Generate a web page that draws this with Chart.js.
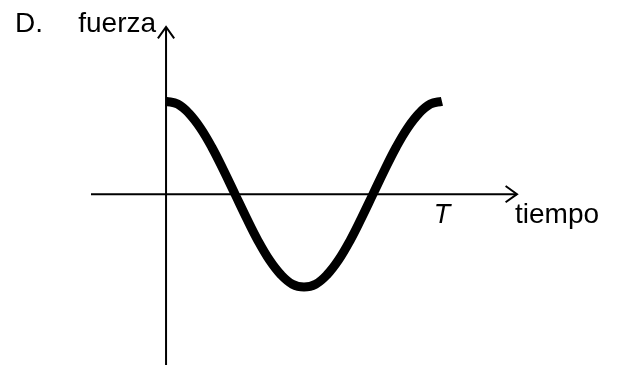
<!DOCTYPE html>
<html>
<head>
<meta charset="utf-8">
<script src="https://cdn.jsdelivr.net/npm/chart.js@4"></script>
<style>
    html, body { margin: 0; padding: 0; background: #fff; }
    #chart { display: block; }
</style>
</head>
<body>
<canvas id="chart" width="619" height="367"></canvas>
<script>
// values: one full period, time in units of T
const timeValues = [0, 0.042, 0.083, 0.125, 0.167, 0.208, 0.25, 0.292, 0.333, 0.375, 0.417, 0.458, 0.5,
                    0.542, 0.583, 0.625, 0.667, 0.708, 0.75, 0.792, 0.833, 0.875, 0.917, 0.958, 1];
const forceValues = [1, 0.97, 0.87, 0.71, 0.5, 0.26, 0, -0.26, -0.5, -0.71, -0.87, -0.97, -1,
                     -0.97, -0.87, -0.71, -0.5, -0.26, 0, 0.26, 0.5, 0.71, 0.87, 0.97, 1];

// axis extents (data units)
const xRange = [-0.272, 1.272];
const yRange = [-1.84, 1.80];

const periodTick = 1;
const labels = { prefix: 'D.', yTitle: 'fuerza', xTitle: 'tiempo', period: 'T' };

const FONT = '"Liberation Sans", Arial, sans-serif';

function drawArrow(ctx, x1, y1, x2, y2) {
    const ang = Math.atan2(y2 - y1, x2 - x1);
    const len = 14, spread = 0.62;
    ctx.beginPath();
    ctx.moveTo(x1, y1);
    ctx.lineTo(x2, y2);
    ctx.stroke();
    ctx.beginPath();
    ctx.moveTo(x2 - len * Math.cos(ang - spread), y2 - len * Math.sin(ang - spread));
    ctx.lineTo(x2, y2);
    ctx.lineTo(x2 - len * Math.cos(ang + spread), y2 - len * Math.sin(ang + spread));
    ctx.stroke();
}

const axesPlugin = {
    id: 'sketchAxes',
    beforeDatasetsDraw(chart) {
        const ctx = chart.ctx;
        const xs = chart.scales.x, ys = chart.scales.y;
        const x0 = xs.getPixelForValue(0);
        const y0 = ys.getPixelForValue(0);
        ctx.save();
        ctx.strokeStyle = '#000';
        ctx.lineWidth = 2;
        ctx.lineCap = 'butt';
        // horizontal axis
        drawArrow(ctx, xs.getPixelForValue(xRange[0]), y0, xs.getPixelForValue(xRange[1]), y0);
        // vertical axis
        drawArrow(ctx, x0, ys.getPixelForValue(yRange[0]), x0, ys.getPixelForValue(yRange[1]));
        ctx.restore();
    },
    afterDraw(chart) {
        const ctx = chart.ctx;
        const xs = chart.scales.x, ys = chart.scales.y;
        const x0 = xs.getPixelForValue(0);
        const y0 = ys.getPixelForValue(0);
        const yTop = ys.getPixelForValue(yRange[1]);
        const xEnd = xs.getPixelForValue(xRange[1]);
        ctx.save();
        ctx.fillStyle = '#000';
        ctx.textBaseline = 'alphabetic';
        ctx.font = '28px ' + FONT;
        ctx.textAlign = 'left';
        ctx.fillText(labels.prefix, 15, yTop + 5);
        ctx.textAlign = 'right';
        ctx.fillText(labels.yTitle, x0 - 10, yTop + 5);
        ctx.textAlign = 'left';
        ctx.fillText(labels.xTitle, xEnd - 2, y0 + 29);
        ctx.font = 'italic 27px ' + FONT;
        ctx.textAlign = 'center';
        ctx.fillText(labels.period, xs.getPixelForValue(periodTick), y0 + 29);
        ctx.restore();
    }
};

const points = timeValues.map((t, i) => ({ x: t, y: forceValues[i] }));

new Chart(document.getElementById('chart'), {
    type: 'line',
    data: {
        datasets: [{
            data: points,
            borderColor: '#000',
            borderWidth: 9,
            borderCapStyle: 'butt',
            pointRadius: 0,
            fill: false,
            tension: 0.4
        }]
    },
    options: {
        responsive: false,
        animation: false,
        layout: { padding: { left: 91, right: 102, top: 27, bottom: 2 } },
        plugins: { legend: { display: false }, tooltip: { enabled: false } },
        scales: {
            x: { type: 'linear', min: xRange[0], max: xRange[1], display: false },
            y: { type: 'linear', min: yRange[0], max: yRange[1], display: false }
        }
    },
    plugins: [axesPlugin]
});
</script>
</body>
</html>
